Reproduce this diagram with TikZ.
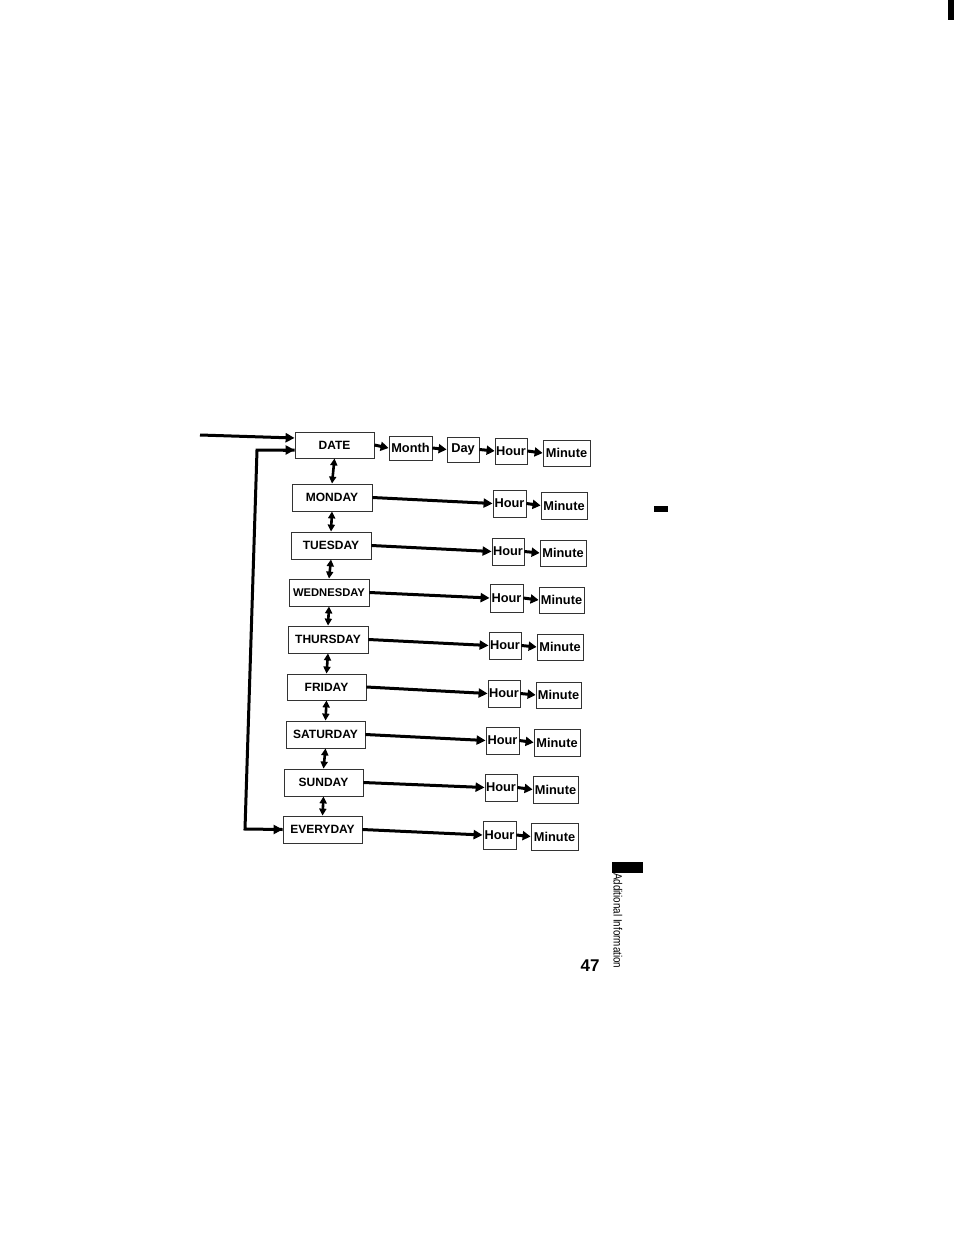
\documentclass[tikz,border=0pt]{standalone}
\usepackage{fontspec}
\setmainfont{Liberation Sans}
\usetikzlibrary{arrows.meta,calc}
\newcommand\bx[6]{\node[box,minimum width={#4-#2},minimum height={#5-#3}] (#1) at ({(#2+#4)/2},{(#3+#5)/2}) {#6};}
\newcommand\dlab{\fontsize{12}{12}\selectfont\bfseries}
\newcommand\slab{\fontsize{12.8}{12.8}\selectfont\bfseries}
\tikzset{
  box/.style={draw=black!80,line width=0.8pt,inner sep=0pt,fill=white},
  flow/.style={line width=3pt,-{Triangle[length=9pt,width=9pt]}},
  shortflow/.style={line width=3pt,-{Triangle[length=8pt,width=9pt]}},
  updown/.style={line width=2.6pt,{Triangle[length=7pt,width=7pt]}-{Triangle[length=7pt,width=7pt]}},
  bar/.style={fill=black,draw=none}
}
\begin{document}
\begin{tikzpicture}[x=1pt,y=-1pt]
\useasboundingbox (0,0) rectangle (954,1233);
% row DATE
\bx{date}{295}{432}{374}{458}{\dlab DATE}
\bx{month}{389}{436}{432}{460}{\slab Month}
\bx{dday}{447}{437}{479}{462}{\slab Day}
\bx{h0}{495}{438}{527}{464}{\slab Hour}
\bx{m0}{543}{440}{590}{466}{\slab Minute}
% weekdays
\bx{mon}{292}{484}{372}{511}{\dlab MONDAY}
\bx{h1}{493}{490}{526}{517}{\slab Hour}
\bx{m1}{541}{492}{587}{519}{\slab Minute}
\bx{tue}{291}{532}{371}{559}{\dlab TUESDAY}
\bx{h2}{492}{538}{524}{565}{\slab Hour}
\bx{m2}{540}{540}{586}{566}{\slab Minute}
\bx{wed}{289}{579}{369}{606}{\fontsize{11.2}{11.2}\selectfont\bfseries WEDNESDAY}
\bx{h3}{490}{584}{523}{612}{\slab Hour}
\bx{m3}{539}{587}{584}{613}{\slab Minute}
\bx{thu}{288}{626}{368}{653}{\dlab THURSDAY}
\bx{h4}{489}{632}{521}{659}{\slab Hour}
\bx{m4}{537}{634}{583}{660}{\slab Minute}
\bx{fri}{287}{674}{366}{700}{\dlab FRIDAY}
\bx{h5}{488}{680}{520}{707}{\slab Hour}
\bx{m5}{536}{682}{581}{708}{\slab Minute}
\bx{sat}{286}{721}{365}{748}{\dlab SATURDAY}
\bx{h6}{486}{727}{519}{754}{\slab Hour}
\bx{m6}{534}{729}{580}{756}{\slab Minute}
\bx{sun}{284}{769}{363}{796}{\dlab SUNDAY}
\bx{h7}{485}{774}{517}{801}{\slab Hour}
\bx{m7}{533}{776}{578}{803}{\slab Minute}
\bx{eve}{283}{816}{362}{843}{\dlab EVERYDAY}
\bx{h8}{483}{821}{516}{849}{\slab Hour}
\bx{m8}{531}{823}{578}{850}{\slab Minute}
% DATE row arrows
\draw[shortflow] (date.east) -- (month.west);
\draw[shortflow] (month.east) -- (dday.west);
\draw[shortflow] (dday.east) -- (h0.west);
\draw[shortflow] (h0.east) -- (m0.west);
% long arrows
\foreach \d/\i in {mon/1,tue/2,wed/3,thu/4,fri/5,sat/6,sun/7,eve/8}{
  \draw[flow] (\d.east) -- (h\i.west);
  \draw[shortflow] (h\i.east) -- (m\i.west);
}
% vertical double arrows
\foreach \a/\b in {date/mon,mon/tue,tue/wed,wed/thu,thu/fri,fri/sat,sat/sun,sun/eve}{
  \draw[updown] (\a.south) -- (\b.north);
}
% incoming arrows
\coordinate (in) at (200,435);
\draw[flow] (in) -- ($(date.west)+(0,-7)$);
\coordinate (lb) at (245,829);
\coordinate (lt) at (257,450);
\draw[line width=3pt,line join=miter] (eve.west) -- (lb) -- (lt) -- ($(date.west)+(0,5)$);
\draw[flow] ($(date.west)+(-12,5)$) -- ($(date.west)+(0,5)$);
\draw[flow] ($(eve.west)+(-12,0)$) -- (eve.west);
% side marks
\fill[bar] (654,506) rectangle (668,512);
\fill[bar] (612,862) rectangle (643,873);
\fill[bar] (948,0) rectangle (954,20);
\node[rotate=-90,anchor=west,inner sep=0pt] (side) at (618,873) {\scalebox{0.82}[1]{\fontsize{12}{12}\selectfont Additional Information}};
\node[inner sep=0pt] (page) at (590,966) {\fontsize{17}{17}\selectfont\bfseries 47};
\end{tikzpicture}
\end{document}
